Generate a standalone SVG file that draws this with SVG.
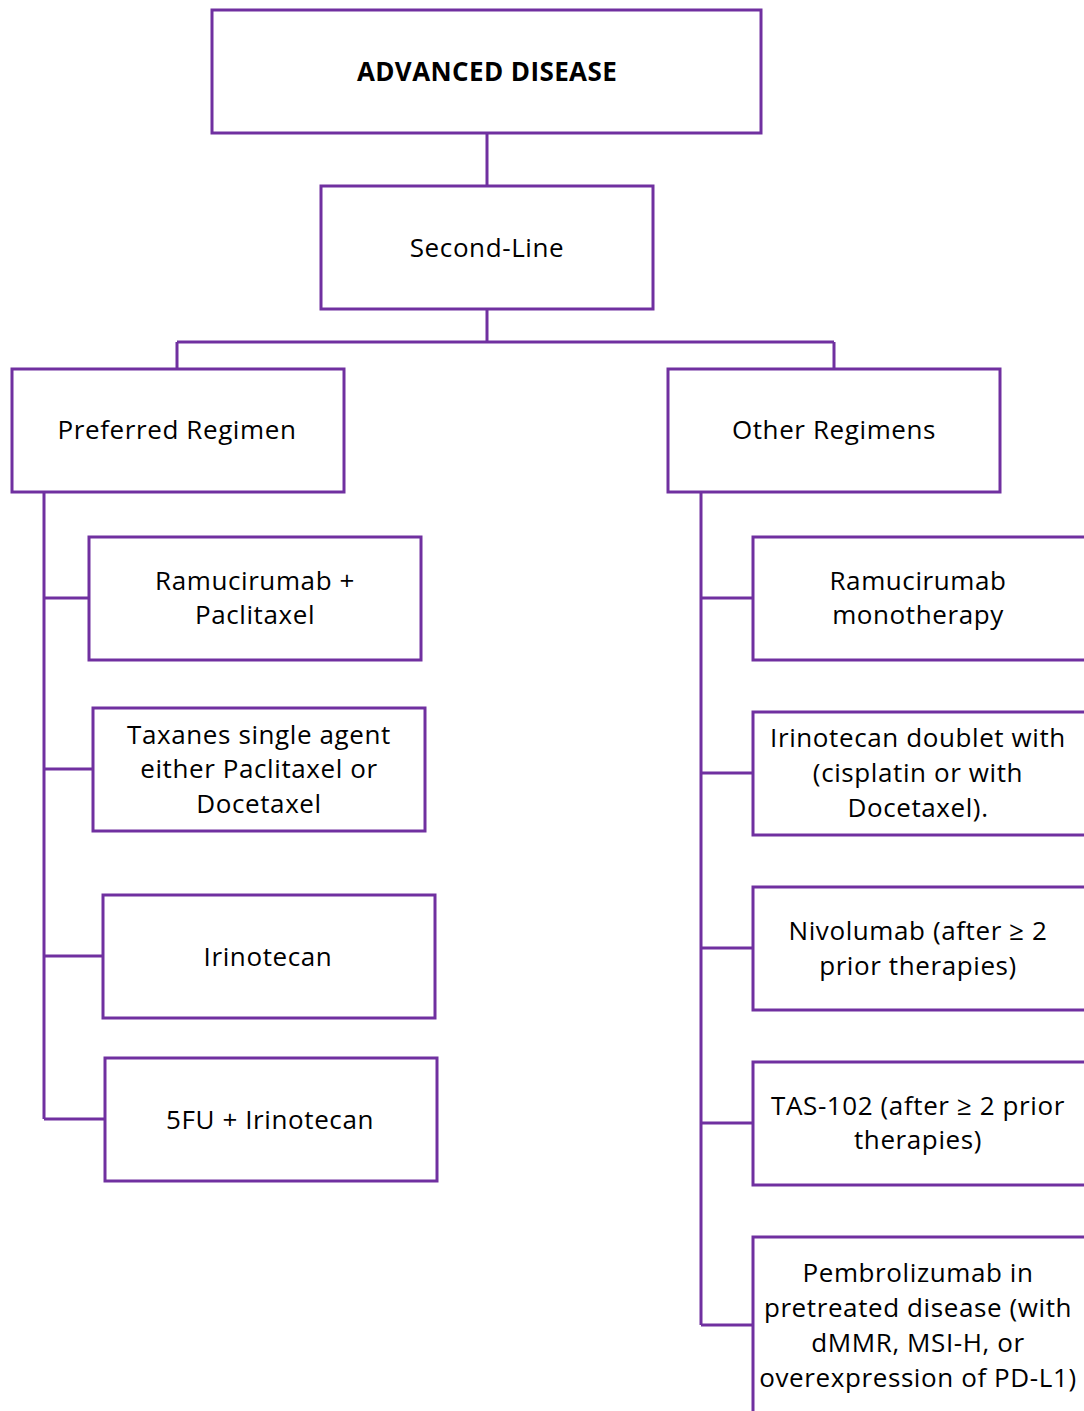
<svg xmlns="http://www.w3.org/2000/svg" width="1084" height="1411" viewBox="0 0 1084 1411">
<style>
.box{fill:#fff;stroke:#7030A0;stroke-width:3}
.c{fill:none;stroke:#7030A0;stroke-width:3}
text{font-family:"Open Sans","Liberation Sans",sans-serif;font-size:26px;letter-spacing:0.6px;fill:#000;text-anchor:middle}
.b{font-weight:bold;letter-spacing:0.4px}
</style>
<rect width="1084" height="1411" fill="#fff"/>
<g id="connectors">
<path class="c" d="M487,134V185M487,309V342M177,342H834M177,342V368M834,342V368"/>
<path class="c" d="M44,492V1119M44,598H88M44,769H92M44,956H102M44,1119H104"/>
<path class="c" d="M701,492V1325M701,598H752M701,773H752M701,948H752M701,1123H752M701,1325H752"/>
</g>
<g id="n-advanced"><rect class="box" x="212" y="10" width="549" height="123"/><text class="b" x="487" y="81">ADVANCED DISEASE</text></g>
<g id="n-second"><rect class="box" x="321" y="186" width="332" height="123"/><text x="487" y="257">Second-Line</text></g>
<g id="n-preferred"><rect class="box" x="12" y="369" width="332" height="123"/><text x="177" y="439">Preferred Regimen</text></g>
<g id="n-other"><rect class="box" x="668" y="369" width="332" height="123"/><text x="834" y="439">Other Regimens</text></g>
<g id="n-ramupac"><rect class="box" x="89" y="537" width="332" height="123"/><text x="255" y="590">Ramucirumab +</text><text x="255" y="624">Paclitaxel</text></g>
<g id="n-taxanes"><rect class="box" x="93" y="708" width="332" height="123"/><text x="259" y="744">Taxanes single agent</text><text x="259" y="778">either Paclitaxel or</text><text x="259" y="813">Docetaxel</text></g>
<g id="n-irino"><rect class="box" x="103" y="895" width="332" height="123"/><text x="268" y="966">Irinotecan</text></g>
<g id="n-5fu"><rect class="box" x="105" y="1058" width="332" height="123"/><text x="270" y="1129">5FU + Irinotecan</text></g>
<g id="n-ramumono"><rect class="box" x="753" y="537" width="340" height="123"/><text x="918" y="590">Ramucirumab</text><text x="918" y="624">monotherapy</text></g>
<g id="n-doublet"><rect class="box" x="753" y="712" width="340" height="123"/><text x="918" y="747">Irinotecan doublet with</text><text x="918" y="782">(cisplatin or with</text><text x="918" y="817">Docetaxel).</text></g>
<g id="n-nivo"><rect class="box" x="753" y="887" width="340" height="123"/><text x="918" y="940">Nivolumab (after ≥ 2</text><text x="918" y="975">prior therapies)</text></g>
<g id="n-tas"><rect class="box" x="753" y="1062" width="340" height="123"/><text x="918" y="1115">TAS-102 (after ≥ 2 prior</text><text x="918" y="1149">therapies)</text></g>
<g id="n-pembro"><rect class="box" x="753" y="1237" width="340" height="200"/><text x="918" y="1282">Pembrolizumab in</text><text x="918" y="1317">pretreated disease (with</text><text x="918" y="1352">dMMR, MSI-H, or</text><text x="918" y="1387">overexpression of PD-L1)</text></g>
</svg>
